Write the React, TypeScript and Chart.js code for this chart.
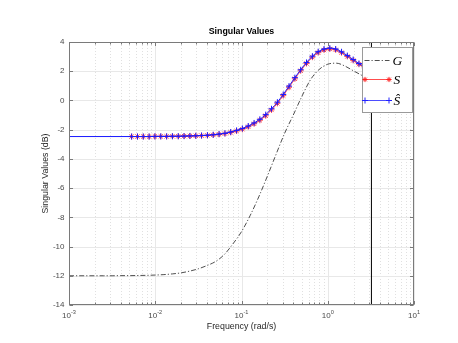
import { useEffect, useRef } from 'react';
import { Chart, registerables } from 'chart.js';

Chart.register(...registerables);

// ---------------- data ----------------
const gFreq = [
  0.001, 0.001259, 0.001585, 0.001995, 0.002512, 0.003162, 0.003981, 0.005012, 0.00631, 0.007943,
  0.01, 0.01259, 0.01585, 0.01995, 0.02512, 0.03162, 0.03981, 0.05012, 0.0631, 0.07943,
  0.1, 0.1259, 0.1585, 0.1995, 0.2512, 0.3162, 0.3981, 0.5012, 0.631, 0.7943,
  1, 1.259, 1.585, 1.995, 2.512, 3.162,
];
const gDb = [
  -12.0, -12.0, -12.0, -12.0, -12.0, -12.0, -11.99, -11.99, -11.98, -11.97,
  -11.95, -11.92, -11.87, -11.8, -11.68, -11.52, -11.3, -11.02, -10.55, -9.82,
  -8.98, -7.88, -6.6, -5.18, -3.7, -2.25, -1.0, 0.28, 1.42, 2.12,
  2.48, 2.55, 2.35, 2.02, 1.7, 1.35,
];

const sFreq = [
  0.00532, 0.00622, 0.00726, 0.00849, 0.00991, 0.01159, 0.01355, 0.01581, 0.01849, 0.02158,
  0.02523, 0.02951, 0.03443, 0.04027, 0.04699, 0.05495, 0.06427, 0.07499, 0.0877, 0.1023,
  0.1197, 0.14, 0.1633, 0.191, 0.2228, 0.2606, 0.3048, 0.3556, 0.4159, 0.4853,
  0.5675, 0.6637, 0.7745, 0.9057, 1.057, 1.236, 1.445, 1.687, 1.972, 2.301,
  2.692, 3.148,
];
const sDb = [
  -2.47, -2.47, -2.47, -2.47, -2.46, -2.46, -2.46, -2.45, -2.45, -2.44,
  -2.43, -2.42, -2.41, -2.39, -2.36, -2.32, -2.27, -2.19, -2.09, -1.97,
  -1.8, -1.6, -1.36, -1.05, -0.65, -0.2, 0.33, 0.9, 1.48, 2.03,
  2.53, 2.96, 3.27, 3.45, 3.52, 3.46, 3.27, 3.01, 2.74, 2.48,
  2.2, 1.92,
];
const sHatDb = [
  -2.47, -2.47, -2.47, -2.47, -2.46, -2.46, -2.46, -2.45, -2.45, -2.44,
  -2.43, -2.42, -2.4, -2.38, -2.35, -2.3, -2.25, -2.16, -2.05, -1.92,
  -1.75, -1.54, -1.29, -0.97, -0.57, -0.12, 0.41, 0.98, 1.56, 2.1,
  2.6, 3.03, 3.34, 3.52, 3.58, 3.52, 3.33, 3.07, 2.8, 2.53,
  2.25, 1.97,
];
const hatLeadFreq = 0.001;
const hatLeadDb = -2.47;

const cutoffFreq = 3.21;

const xMin = 0.001;
const xMax = 10;
const yMin = -14;
const yMax = 4;
const yTicks = [-14, -12, -10, -8, -6, -4, -2, 0, 2, 4];
const xDecadeExps = [-3, -2, -1, 0, 1];
const xMinorMult = [2, 3, 4, 5, 6, 7, 8, 9];

const titleText = 'Singular Values';
const xLabelText = 'Frequency (rad/s)';
const yLabelText = 'Singular Values (dB)';
const legendLabels = ['G', 'S', 'Ŝ'];

// ---------------- drawing helpers ----------------
const SANS = '"Liberation Sans", Arial, Helvetica, sans-serif';
const SERIF = '"Liberation Serif", "Times New Roman", serif';
const AXIS_COLOR = '#7a7a7a';
const TEXT_COLOR = '#4a4a4a';

function drawStar(ctx: CanvasRenderingContext2D, x: number, y: number, r: number) {
  ctx.beginPath();
  ctx.moveTo(x - r, y); ctx.lineTo(x + r, y);
  ctx.moveTo(x, y - r); ctx.lineTo(x, y + r);
  const d = r * 0.7071;
  ctx.moveTo(x - d, y - d); ctx.lineTo(x + d, y + d);
  ctx.moveTo(x - d, y + d); ctx.lineTo(x + d, y - d);
  ctx.stroke();
}
function drawCross(ctx: CanvasRenderingContext2D, x: number, y: number, r: number) {
  ctx.beginPath();
  ctx.moveTo(x - r, y); ctx.lineTo(x + r, y);
  ctx.moveTo(x, y - r); ctx.lineTo(x, y + r);
  ctx.stroke();
}

const matlabAxes = {
  id: 'matlabAxes',
  beforeDraw(chart: any) {
    const { ctx, width, height } = chart;
    ctx.save();
    ctx.fillStyle = '#ffffff';
    ctx.fillRect(0, 0, width, height);
    ctx.restore();
  },
  beforeDatasetsDraw(chart: any) {
    const { ctx, chartArea, scales } = chart;
    const { left, right, top, bottom } = chartArea;
    const x = scales.x;
    const y = scales.y;
    ctx.save();
    // minor x grid (dotted)
    ctx.lineWidth = 1;
    ctx.strokeStyle = '#e0e0e0';
    ctx.setLineDash([1, 2]);
    for (const e of xDecadeExps) {
      for (const m of xMinorMult) {
        const v = m * Math.pow(10, e);
        if (v >= xMax) continue;
        const px = Math.round(x.getPixelForValue(v)) + 0.5;
        ctx.beginPath();
        ctx.moveTo(px, top);
        ctx.lineTo(px, bottom);
        ctx.stroke();
      }
    }
    // major grid
    ctx.setLineDash([]);
    ctx.strokeStyle = '#e8e8e8';
    for (const e of xDecadeExps) {
      const px = Math.round(x.getPixelForValue(Math.pow(10, e))) + 0.5;
      ctx.beginPath();
      ctx.moveTo(px, top);
      ctx.lineTo(px, bottom);
      ctx.stroke();
    }
    for (const t of yTicks) {
      const py = Math.round(y.getPixelForValue(t)) + 0.5;
      ctx.beginPath();
      ctx.moveTo(left, py);
      ctx.lineTo(right, py);
      ctx.stroke();
    }
    ctx.restore();
  },
  afterDatasetsDraw(chart: any) {
    const { ctx, chartArea, scales } = chart;
    const { left, right, top, bottom } = chartArea;
    const x = scales.x;
    const y = scales.y;
    const L = Math.round(left) + 0.5;
    const R = Math.round(right) - 0.5;
    const T = Math.round(top) + 0.5;
    const B = Math.round(bottom) - 0.5;
    ctx.save();
    // box
    ctx.strokeStyle = AXIS_COLOR;
    ctx.lineWidth = 1;
    ctx.setLineDash([]);
    ctx.strokeRect(L, T, R - L, B - T);
    // x ticks (inward, top & bottom)
    for (const e of xDecadeExps) {
      for (let m = 1; m <= 9; m++) {
        const v = m * Math.pow(10, e);
        if (v > xMax + 1e-9) continue;
        const px = Math.round(x.getPixelForValue(v)) + 0.5;
        const len = m === 1 ? 3.5 : 2;
        ctx.beginPath();
        ctx.moveTo(px, B); ctx.lineTo(px, B - len);
        ctx.moveTo(px, T); ctx.lineTo(px, T + len);
        ctx.stroke();
      }
    }
    // y ticks
    for (const t of yTicks) {
      const py = Math.round(y.getPixelForValue(t)) + 0.5;
      ctx.beginPath();
      ctx.moveTo(L, py); ctx.lineTo(L + 3.5, py);
      ctx.moveTo(R, py); ctx.lineTo(R - 3.5, py);
      ctx.stroke();
    }
    // y tick labels
    ctx.fillStyle = TEXT_COLOR;
    ctx.font = `8px ${SANS}`;
    ctx.textAlign = 'right';
    ctx.textBaseline = 'middle';
    for (const t of yTicks) {
      const py = y.getPixelForValue(t);
      ctx.fillText(String(t), left - 4.5, py);
    }
    // x tick labels 10^e
    ctx.textBaseline = 'alphabetic';
    ctx.textAlign = 'left';
    for (const e of xDecadeExps) {
      const px = x.getPixelForValue(Math.pow(10, e));
      ctx.font = `8px ${SANS}`;
      const wBase = ctx.measureText('10').width;
      ctx.font = `5.6px ${SANS}`;
      const expStr = String(e);
      const wExp = ctx.measureText(expStr).width;
      const x0 = px - (wBase + wExp) / 2;
      ctx.font = `8px ${SANS}`;
      ctx.fillText('10', x0, bottom + 13);
      ctx.font = `5.6px ${SANS}`;
      ctx.fillText(expStr, x0 + wBase, bottom + 9);
    }
    // axis labels & title
    ctx.fillStyle = '#262626';
    ctx.textAlign = 'center';
    ctx.font = `8.8px ${SANS}`;
    ctx.fillText(xLabelText, (left + right) / 2, bottom + 23.5);
    ctx.save();
    ctx.translate(48, (top + bottom) / 2);
    ctx.rotate(-Math.PI / 2);
    ctx.fillText(yLabelText, 0, 0);
    ctx.restore();
    ctx.font = `bold 8.8px ${SANS}`;
    ctx.fillStyle = '#000000';
    ctx.fillText(titleText, (left + right) / 2, top - 8);

    // legend
    const bx = Math.round(right) - 52 + 0.5;
    const by = Math.round(top) + 5 + 0.5;
    const bw = 50;
    const bh = 65;
    ctx.fillStyle = '#ffffff';
    ctx.fillRect(bx, by, bw, bh);
    ctx.strokeStyle = '#9a9a9a';
    ctx.lineWidth = 1;
    ctx.strokeRect(bx, by, bw, bh);
    const lx0 = bx + 2;
    const lx1 = bx + 27;
    const rows = [by + 13, by + 32, by + 53];
    // G
    ctx.strokeStyle = '#222222';
    ctx.lineWidth = 0.8;
    ctx.setLineDash([5, 2, 1.2, 2]);
    ctx.beginPath();
    ctx.moveTo(lx0, rows[0]); ctx.lineTo(lx1, rows[0]);
    ctx.stroke();
    ctx.setLineDash([]);
    // S
    ctx.strokeStyle = '#ff2020';
    ctx.lineWidth = 0.8;
    ctx.beginPath();
    ctx.moveTo(lx0, rows[1]); ctx.lineTo(lx1, rows[1]);
    ctx.stroke();
    ctx.lineWidth = 1;
    drawStar(ctx, lx0 + 0.5, rows[1], 2.6);
    drawStar(ctx, lx1 - 0.5, rows[1], 2.6);
    // S hat
    ctx.strokeStyle = '#2020ff';
    ctx.lineWidth = 0.8;
    ctx.beginPath();
    ctx.moveTo(lx0, rows[2]); ctx.lineTo(lx1, rows[2]);
    ctx.stroke();
    ctx.lineWidth = 1;
    drawCross(ctx, lx0 + 0.5, rows[2], 3);
    drawCross(ctx, lx1 - 0.5, rows[2], 3);
    // labels
    ctx.fillStyle = '#000000';
    ctx.textAlign = 'left';
    ctx.textBaseline = 'alphabetic';
    ctx.font = `italic 13.5px ${SERIF}`;
    ctx.fillText(legendLabels[0], lx1 + 3, rows[0] + 4.5);
    ctx.fillText(legendLabels[1], lx1 + 4, rows[1] + 4.5);
    ctx.fillText(legendLabels[2], lx1 + 4, rows[2] + 4.5);
    ctx.restore();
  },
};

export default function App() {
  const ref = useRef<HTMLCanvasElement>(null);
  useEffect(() => {
    if (!ref.current) return;
    const gData = gFreq.map((f, i) => ({ x: f, y: gDb[i] }));
    const sData = sFreq.map((f, i) => ({ x: f, y: sDb[i] }));
    const hatData = [{ x: hatLeadFreq, y: hatLeadDb }, ...sFreq.map((f, i) => ({ x: f, y: sHatDb[i] }))];
    const cutData = [{ x: cutoffFreq, y: yMin }, { x: cutoffFreq, y: yMax }];
    const chart = new Chart(ref.current, {
      type: 'line',
      data: {
        datasets: [
          {
            label: 'cutoff',
            data: cutData,
            borderColor: '#000000',
            borderWidth: 1,
            pointRadius: 0,
          },
          {
            label: legendLabels[2],
            data: hatData,
            borderColor: '#1a1aff',
            borderWidth: 1,
            pointStyle: 'cross',
            pointRadius: (c: any) => (c.dataIndex === 0 ? 0 : 3),
            pointBorderColor: '#1a1aff',
            pointBackgroundColor: 'rgba(0,0,0,0)',
            pointBorderWidth: 1,
            cubicInterpolationMode: 'monotone',
          },
          {
            label: legendLabels[1],
            data: sData,
            borderColor: '#ff2a2a',
            borderWidth: 0.8,
            pointStyle: 'star',
            pointRadius: 3,
            pointBorderColor: 'rgba(255,40,40,0.8)',
            pointBackgroundColor: 'rgba(0,0,0,0)',
            pointBorderWidth: 1,
            cubicInterpolationMode: 'monotone',
          },
          {
            label: legendLabels[0],
            data: gData,
            borderColor: '#222222',
            borderWidth: 0.8,
            borderDash: [5, 2, 1.2, 2],
            pointRadius: 0,
            cubicInterpolationMode: 'monotone',
          },
        ],
      } as any,
      options: {
        responsive: false,
        animation: false,
        devicePixelRatio: 1,
        events: [],
        layout: { padding: { left: 69, top: 42, right: 44, bottom: 38 } },
        scales: {
          x: { type: 'logarithmic', min: xMin, max: xMax, display: false },
          y: { type: 'linear', min: yMin, max: yMax, display: false },
        },
        plugins: {
          legend: { display: false },
          tooltip: { enabled: false },
          title: { display: false },
        },
      } as any,
      plugins: [matlabAxes],
    });
    return () => chart.destroy();
  }, []);
  return (
    <div style={{ position: 'fixed', left: 0, top: 0, width: 458, height: 343, background: '#fff' }}>
      <canvas ref={ref} width={458} height={343} style={{ display: 'block', width: 458, height: 343 }} />
    </div>
  );
}
